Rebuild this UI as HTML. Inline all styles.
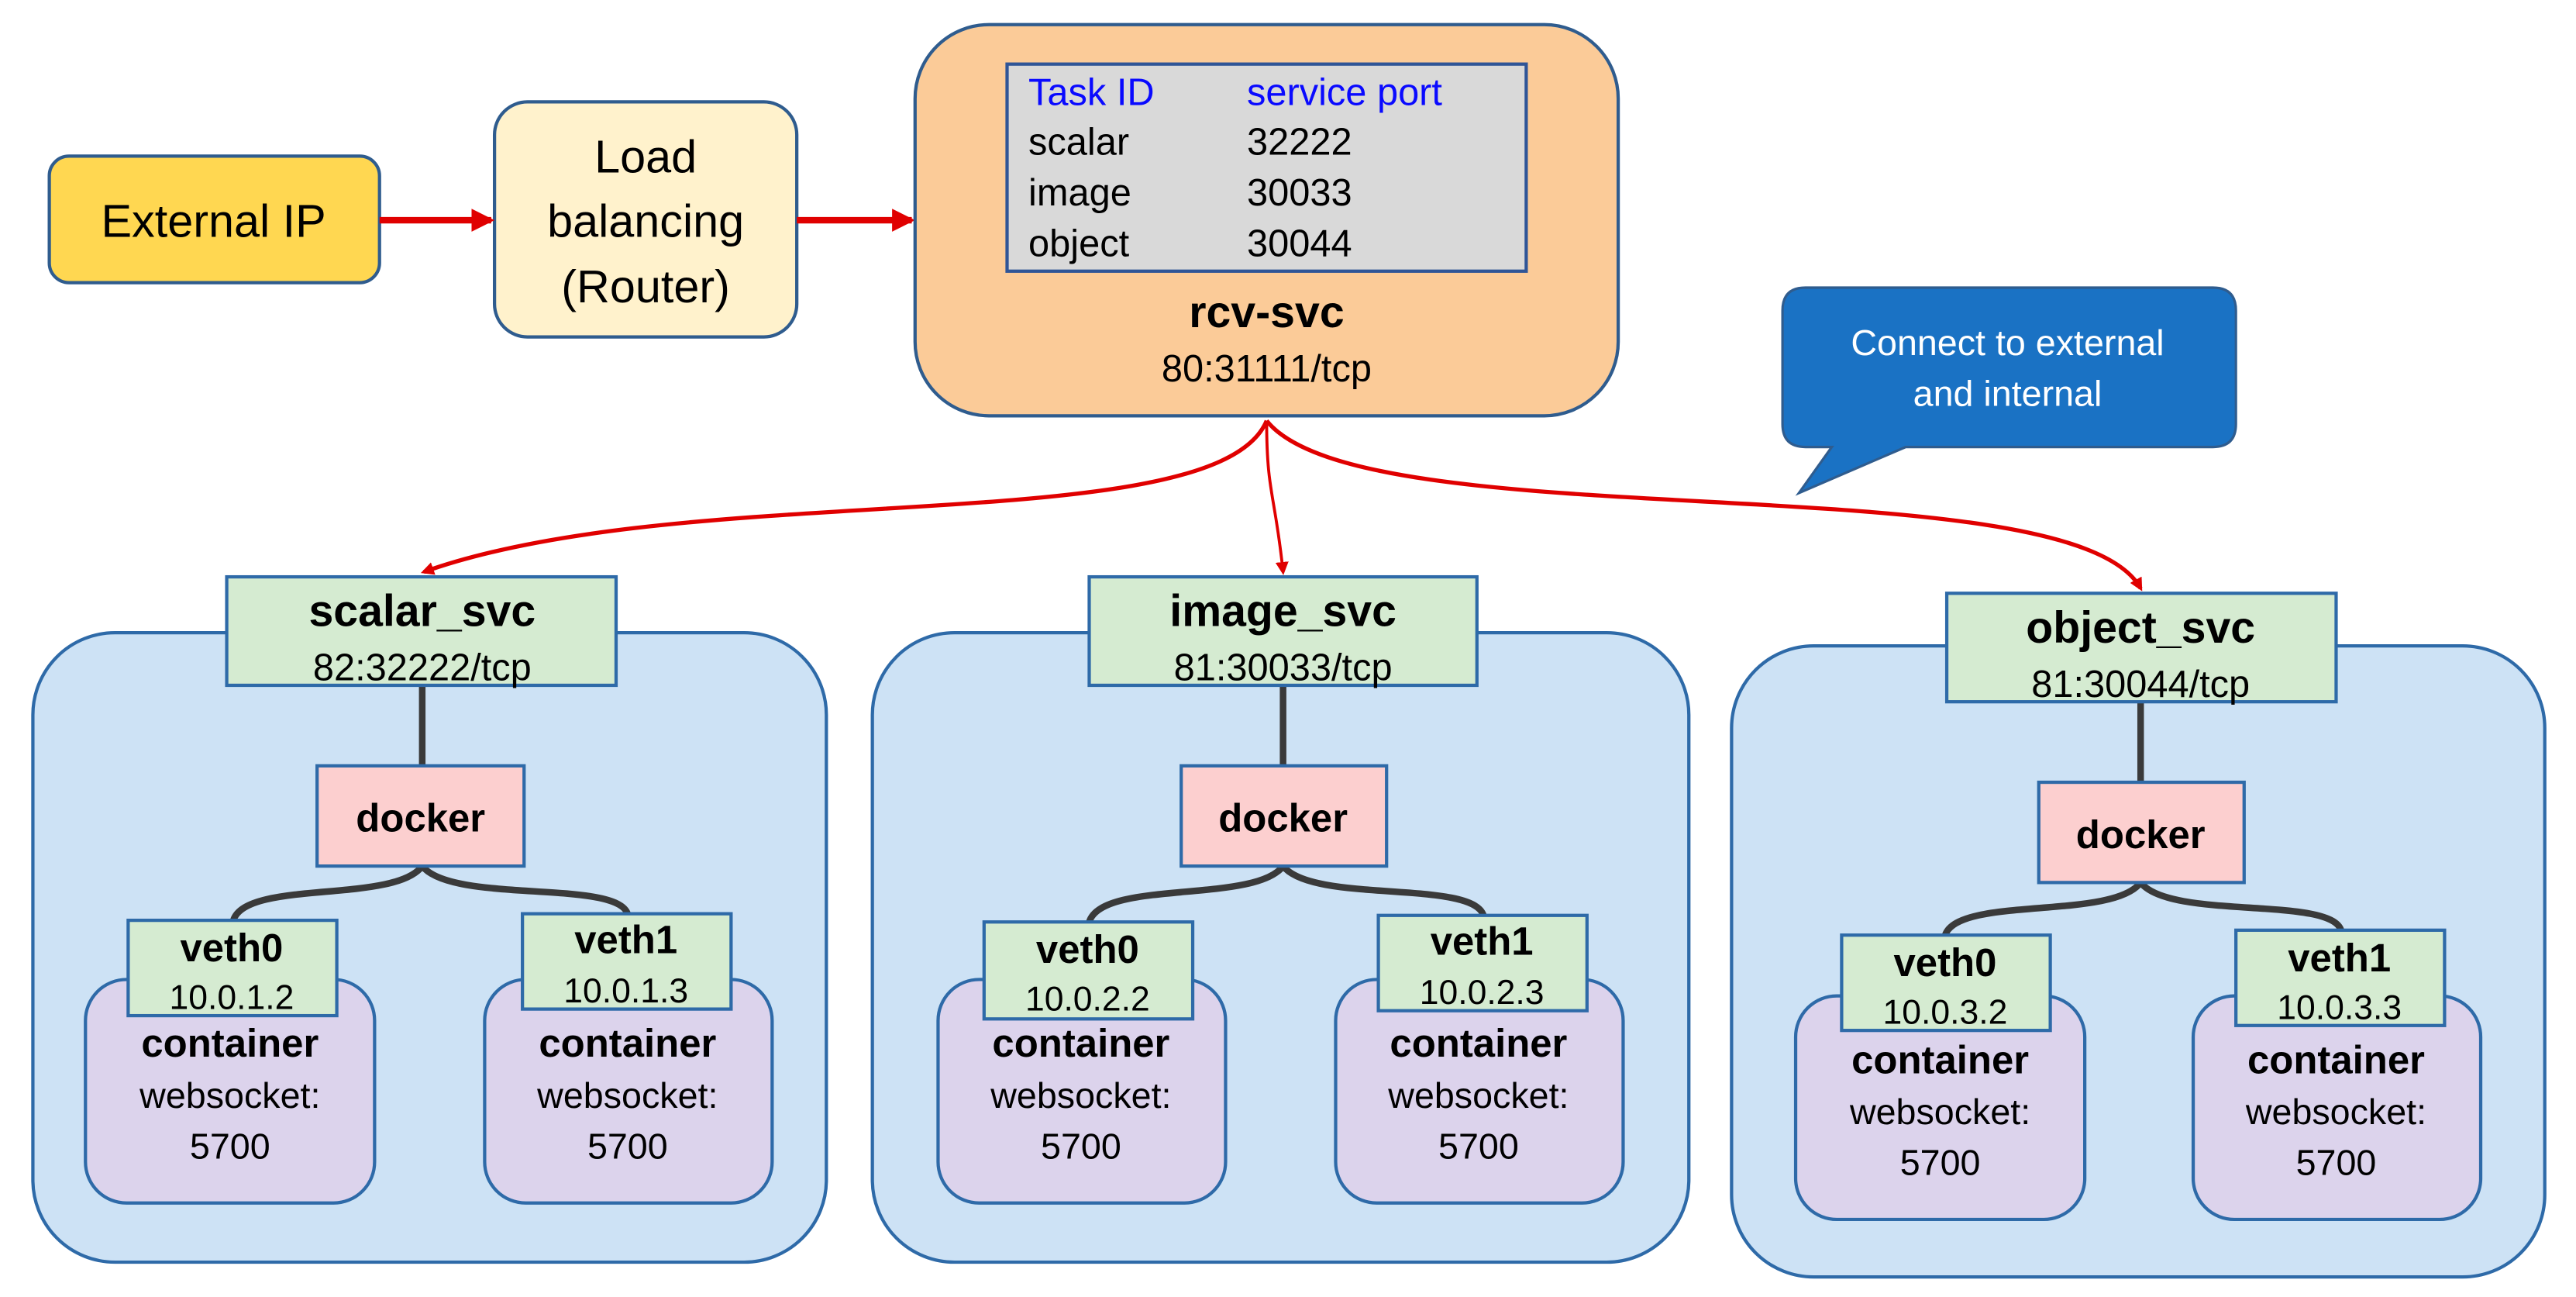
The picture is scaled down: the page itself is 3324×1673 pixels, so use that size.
<!DOCTYPE html>
<html><head><meta charset="utf-8"><style>html,body{margin:0;padding:0;background:#fff}svg{display:block}text{font-family:"Liberation Sans",sans-serif}
.svc{font-size:27px;font-weight:bold}.port{font-size:23px}.dk{font-size:24px;font-weight:bold}.vn{font-size:24px;font-weight:bold}.ip{font-size:21px}.cn{font-size:24px;font-weight:bold}.ws{font-size:22px}
</style></head><body>
<svg width="3324" height="1673" viewBox="0 0 1568 789.2" xmlns="http://www.w3.org/2000/svg">
<defs>
<marker id="ar" markerWidth="8" markerHeight="8" refX="6" refY="4" orient="auto" markerUnits="userSpaceOnUse"><path d="M0,0 L8,4 L0,8 z" fill="#e00000"/></marker>
<marker id="ar2" markerWidth="14" markerHeight="14" refX="12" refY="7" orient="auto" markerUnits="userSpaceOnUse"><path d="M0,0 L14,7 L0,14 z" fill="#e00000"/></marker>
</defs>
<rect width="1568" height="789.2" fill="#fff"/>
<rect x="30" y="95" width="201" height="77" rx="12" fill="#ffd751" stroke="#2f5c8e" stroke-width="2"/>
<text x="130" y="144" font-size="28" text-anchor="middle">External IP</text>
<rect x="301" y="62" width="184" height="143" rx="20" fill="#fff2cc" stroke="#2f5c8e" stroke-width="2"/>
<g font-size="28" text-anchor="middle"><text x="393" y="105">Load</text><text x="393" y="144">balancing</text><text x="393" y="184">(Router)</text></g>
<line x1="231" y1="134" x2="299" y2="134" stroke="#e00000" stroke-width="4" marker-end="url(#ar2)"/>
<line x1="485" y1="134" x2="555" y2="134" stroke="#e00000" stroke-width="4" marker-end="url(#ar2)"/>
<rect x="557" y="15" width="428" height="238" rx="45" fill="#fbcb98" stroke="#2f5c8e" stroke-width="2"/>
<rect x="613" y="39" width="316" height="126" fill="#d9d9d9" stroke="#2f5597" stroke-width="2"/>
<g font-size="23"><text x="626" y="64" fill="#0a0aff">Task ID</text><text x="759" y="64" fill="#0a0aff">service port</text>
<text x="626" y="94">scalar</text><text x="759" y="94">32222</text>
<text x="626" y="125">image</text><text x="759" y="125">30033</text>
<text x="626" y="156">object</text><text x="759" y="156">30044</text></g>
<text x="771" y="199" font-size="27" font-weight="bold" text-anchor="middle">rcv-svc</text>
<text x="771" y="232" font-size="23" text-anchor="middle">80:31111/tcp</text>
<path d="M1099,175 H1347 Q1361,175 1361,189 V258 Q1361,272 1347,272 H1160 L1095,300 L1115,272 H1099 Q1085,272 1085,258 V189 Q1085,175 1099,175 Z" fill="#1a72c4" stroke="#2f5c8e" stroke-width="1.5"/>
<g font-size="22" fill="#fff" text-anchor="middle"><text x="1222" y="216">Connect to external</text><text x="1222" y="247">and internal</text></g>
<g fill="none" stroke="#e00000" stroke-width="2.5">
<path d="M771,256 C740,330 420,290 258,348" marker-end="url(#ar)"/>
<path d="M771,256 C771,300 776,300 781,348" stroke-width="1.8" marker-end="url(#ar)"/>
<path d="M771,256 C830,330 1260,280 1303,358" marker-end="url(#ar)"/>
</g>
<g>
<rect x="20" y="385" width="483" height="383" rx="50" fill="#cde2f5" stroke="#2e6aa8" stroke-width="2"/>
<line x1="257" y1="417" x2="257" y2="466" stroke="#3a3a3a" stroke-width="4"/>
<path d="M257,527 C240,550 150,535 142,560 M257,527 C275,550 375,535 382,556" fill="none" stroke="#3a3a3a" stroke-width="4"/>
<rect x="52" y="596" width="176" height="136" rx="25" fill="#dcd3ec" stroke="#2e6aa8" stroke-width="2"/>
<rect x="295" y="596" width="175" height="136" rx="25" fill="#dcd3ec" stroke="#2e6aa8" stroke-width="2"/>
<rect x="138" y="351" width="237" height="66" fill="#d5ebd1" stroke="#2e6aa8" stroke-width="2"/>
<rect x="193" y="466" width="126" height="61" fill="#fccfcf" stroke="#2e6aa8" stroke-width="2"/>
<rect x="78" y="560" width="127" height="58" fill="#d5ebd1" stroke="#2e6aa8" stroke-width="2"/>
<rect x="318" y="556" width="127" height="58" fill="#d5ebd1" stroke="#2e6aa8" stroke-width="2"/>
<g text-anchor="middle">
<text x="257" y="381" class="svc">scalar_svc</text>
<text x="257" y="414" class="port">82:32222/tcp</text>
<text x="256" y="506" class="dk">docker</text>
<text x="141" y="585" class="vn">veth0</text>
<text x="141" y="614" class="ip">10.0.1.2</text>
<text x="381" y="580" class="vn">veth1</text>
<text x="381" y="610" class="ip">10.0.1.3</text>
<text x="140" y="643" class="cn">container</text>
<text x="140" y="674" class="ws">websocket:</text>
<text x="140" y="705" class="ws">5700</text>
<text x="382" y="643" class="cn">container</text>
<text x="382" y="674" class="ws">websocket:</text>
<text x="382" y="705" class="ws">5700</text>
</g></g>
<g transform="translate(511,0)">
<rect x="20" y="385" width="497" height="383" rx="50" fill="#cde2f5" stroke="#2e6aa8" stroke-width="2"/>
<line x1="270" y1="417" x2="270" y2="466" stroke="#3a3a3a" stroke-width="4"/>
<path d="M270,527 C253,550 160,535 152,561 M270,527 C288,550 385,535 392,557" fill="none" stroke="#3a3a3a" stroke-width="4"/>
<rect x="60" y="596" width="175" height="136" rx="25" fill="#dcd3ec" stroke="#2e6aa8" stroke-width="2"/>
<rect x="302" y="596" width="175" height="136" rx="25" fill="#dcd3ec" stroke="#2e6aa8" stroke-width="2"/>
<rect x="152" y="351" width="236" height="66" fill="#d5ebd1" stroke="#2e6aa8" stroke-width="2"/>
<rect x="208" y="466" width="125" height="61" fill="#fccfcf" stroke="#2e6aa8" stroke-width="2"/>
<rect x="88" y="561" width="127" height="59" fill="#d5ebd1" stroke="#2e6aa8" stroke-width="2"/>
<rect x="328" y="557" width="127" height="58" fill="#d5ebd1" stroke="#2e6aa8" stroke-width="2"/>
<g text-anchor="middle">
<text x="270" y="381" class="svc">image_svc</text>
<text x="270" y="414" class="port">81:30033/tcp</text>
<text x="270" y="506" class="dk">docker</text>
<text x="151" y="586" class="vn">veth0</text>
<text x="151" y="615" class="ip">10.0.2.2</text>
<text x="391" y="581" class="vn">veth1</text>
<text x="391" y="611" class="ip">10.0.2.3</text>
<text x="147" y="643" class="cn">container</text>
<text x="147" y="674" class="ws">websocket:</text>
<text x="147" y="705" class="ws">5700</text>
<text x="389" y="643" class="cn">container</text>
<text x="389" y="674" class="ws">websocket:</text>
<text x="389" y="705" class="ws">5700</text>
</g></g>
<g transform="translate(1034,10)">
<rect x="20" y="383" width="495" height="384" rx="50" fill="#cde2f5" stroke="#2e6aa8" stroke-width="2"/>
<line x1="269" y1="417" x2="269" y2="466" stroke="#3a3a3a" stroke-width="4"/>
<path d="M269,527 C252,550 158,535 150,559 M269,527 C287,550 384,535 391,556" fill="none" stroke="#3a3a3a" stroke-width="4"/>
<rect x="59" y="596" width="176" height="136" rx="25" fill="#dcd3ec" stroke="#2e6aa8" stroke-width="2"/>
<rect x="301" y="596" width="175" height="136" rx="25" fill="#dcd3ec" stroke="#2e6aa8" stroke-width="2"/>
<rect x="151" y="351" width="237" height="66" fill="#d5ebd1" stroke="#2e6aa8" stroke-width="2"/>
<rect x="207" y="466" width="125" height="61" fill="#fccfcf" stroke="#2e6aa8" stroke-width="2"/>
<rect x="87" y="559" width="127" height="58" fill="#d5ebd1" stroke="#2e6aa8" stroke-width="2"/>
<rect x="327" y="556" width="127" height="58" fill="#d5ebd1" stroke="#2e6aa8" stroke-width="2"/>
<g text-anchor="middle">
<text x="269" y="381" class="svc">object_svc</text>
<text x="269" y="414" class="port">81:30044/tcp</text>
<text x="269" y="506" class="dk">docker</text>
<text x="150" y="584" class="vn">veth0</text>
<text x="150" y="613" class="ip">10.0.3.2</text>
<text x="390" y="581" class="vn">veth1</text>
<text x="390" y="610" class="ip">10.0.3.3</text>
<text x="147" y="643" class="cn">container</text>
<text x="147" y="674" class="ws">websocket:</text>
<text x="147" y="705" class="ws">5700</text>
<text x="388" y="643" class="cn">container</text>
<text x="388" y="674" class="ws">websocket:</text>
<text x="388" y="705" class="ws">5700</text>
</g></g>
</svg>
</body></html>
